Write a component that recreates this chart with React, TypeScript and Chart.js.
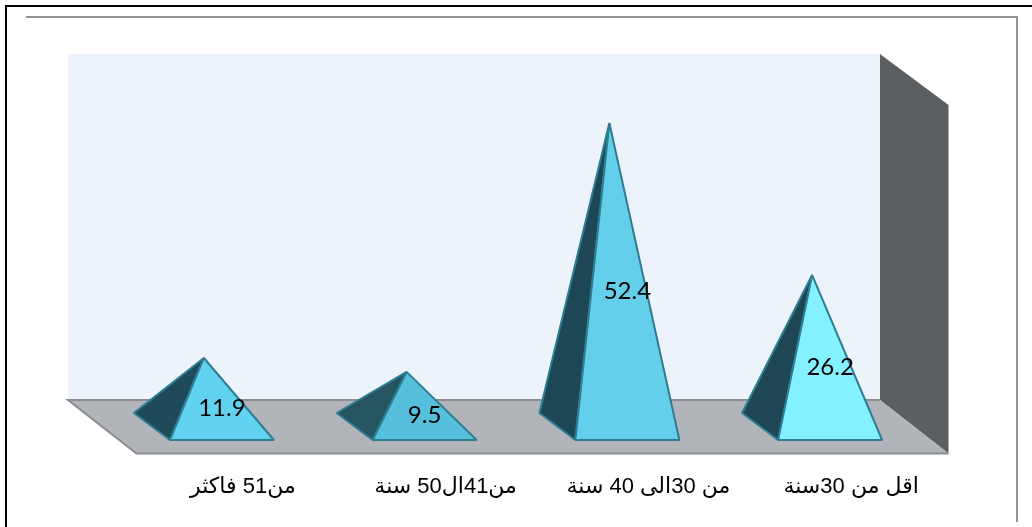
import React, { useEffect, useRef } from "react";
import { Chart, registerables } from "chart.js";

Chart.register(...registerables);

// Age groups, ordered from the oldest band on the left to the youngest on the right.
const categories = ["من51 فاكثر", "من41ال50 سنة", "من 30الى 40 سنة", "اقل من 30سنة"];
const shares = [11.9, 9.5, 52.4, 26.2];

const frontColors = ["#61d3f0", "#55bfdc", "#63cfeb", "#83f1ff"];
const sideColors = ["#1f4a59", "#265562", "#1e4756", "#1e4655"];

const EDGE = "#2f7d92";
const BACK_WALL = "#ecf3fa";
const SIDE_WALL = "#5c5f62";
const FLOOR = "#b1b4b8";
const FLOOR_EDGE = "#8b8d90";

// Faux-3D room drawn around the plot area, with offsets measured from its edges.
const roomPlugin = {
  id: "room",
  beforeDraw(chart: any) {
    const { ctx, chartArea: a } = chart;
    const backL = a.left - 34.5;
    const backR = a.right - 33.5;
    const backT = a.top - 25;
    const backB = a.bottom - 27;
    const depthX = 68.5;
    const depthY = 53.5;

    const poly = (pts: number[][], fill: string) => {
      ctx.beginPath();
      pts.forEach(([x, y], i) => (i ? ctx.lineTo(x, y) : ctx.moveTo(x, y)));
      ctx.closePath();
      ctx.fillStyle = fill;
      ctx.fill();
    };
    const line = (pts: number[][], color: string, width: number) => {
      ctx.beginPath();
      pts.forEach(([x, y], i) => (i ? ctx.lineTo(x, y) : ctx.moveTo(x, y)));
      ctx.strokeStyle = color;
      ctx.lineWidth = width;
      ctx.stroke();
    };

    ctx.save();
    // Outer and inner page rules
    line([[6, 527], [6, 6], [1032, 6]], "#000000", 2);
    line([[26, 17], [1017, 17], [1017, 522]], "#929292", 2);

    poly([[backL, backT], [backR, backT], [backR, backB], [backL, backB]], BACK_WALL);
    poly(
      [[backR, backT], [backR + depthX, backT + 51], [backR + depthX, backB + depthY], [backR, backB]],
      SIDE_WALL,
    );
    poly(
      [[backL, backB], [backR, backB], [backR + depthX, backB + depthY], [backL + depthX, backB + depthY]],
      FLOOR,
    );
    line(
      [[backR, backB], [backL, backB], [backL + depthX, backB + depthY], [backR + depthX, backB + depthY]],
      FLOOR_EDGE,
      2,
    );
    ctx.restore();
  },
};

// Turns each bar of the dataset into a pyramid whose apex sits at the bar's value.
const pyramidPlugin = {
  id: "pyramids",
  afterDatasetsDraw(chart: any) {
    const { ctx, scales } = chart;
    const zero = scales.y.getPixelForValue(0);
    const bars = chart.getDatasetMeta(0).data;
    ctx.save();
    ctx.lineJoin = "bevel";
    bars.forEach((bar: any, i: number) => {
      const apexX = bar.x;
      const apexY = scales.y.getPixelForValue(shares[i]);
      const frontY = zero + 13;
      const backY = zero - 14;
      const frontL = apexX - 34;
      const frontR = apexX + 70;
      const backL = apexX - 70;

      ctx.strokeStyle = EDGE;
      ctx.lineWidth = 2;

      ctx.beginPath();
      ctx.moveTo(apexX, apexY);
      ctx.lineTo(backL, backY);
      ctx.lineTo(frontL, frontY);
      ctx.closePath();
      ctx.fillStyle = sideColors[i];
      ctx.fill();
      ctx.stroke();

      ctx.beginPath();
      ctx.moveTo(apexX, apexY);
      ctx.lineTo(frontL, frontY);
      ctx.lineTo(frontR, frontY);
      ctx.closePath();
      ctx.fillStyle = frontColors[i];
      ctx.fill();
      ctx.stroke();

      // Value label, placed just below the halfway point of the pyramid
      ctx.direction = "ltr";
      ctx.font = '24px Lato, "Open Sans", sans-serif';
      ctx.textAlign = "center";
      ctx.textBaseline = "middle";
      ctx.fillStyle = "#000000";
      ctx.fillText(String(shares[i]), apexX + 18, (apexY + zero) / 2 + 16);
    });
    ctx.restore();
  },
};

export default function App() {
  const canvasRef = useRef<HTMLCanvasElement>(null);

  useEffect(() => {
    const canvas = canvasRef.current;
    if (!canvas) return;
    const chart = new Chart(canvas, {
      type: "bar",
      data: {
        labels: categories,
        datasets: [{ data: shares, backgroundColor: "transparent", borderWidth: 0 }],
      },
      options: {
        responsive: false,
        animation: false,
        layout: { padding: { left: 102.5, right: 118.5, top: 79, bottom: 0 } },
        plugins: { legend: { display: false }, tooltip: { enabled: false }, title: { display: false } },
        scales: {
          y: { display: false, min: 0, max: 60 },
          x: {
            afterFit: (scale: any) => {
              scale.height = 100;
            },
            grid: { display: false, drawTicks: false },
            border: { display: false },
            ticks: {
              maxRotation: 0,
              autoSkip: false,
              padding: 47,
              labelOffset: 39,
              color: "#000000",
              font: { family: '"Liberation Sans", "DejaVu Sans", sans-serif', size: 22 },
            },
          },
        },
      },
      plugins: [roomPlugin, pyramidPlugin],
    });
    return () => chart.destroy();
  }, []);

  return (
    <div style={{ position: "fixed", left: 0, top: 0, width: 1032, height: 527, background: "#ffffff" }}>
      <canvas ref={canvasRef} width={1032} height={527} dir="rtl" style={{ display: "block" }} />
    </div>
  );
}
